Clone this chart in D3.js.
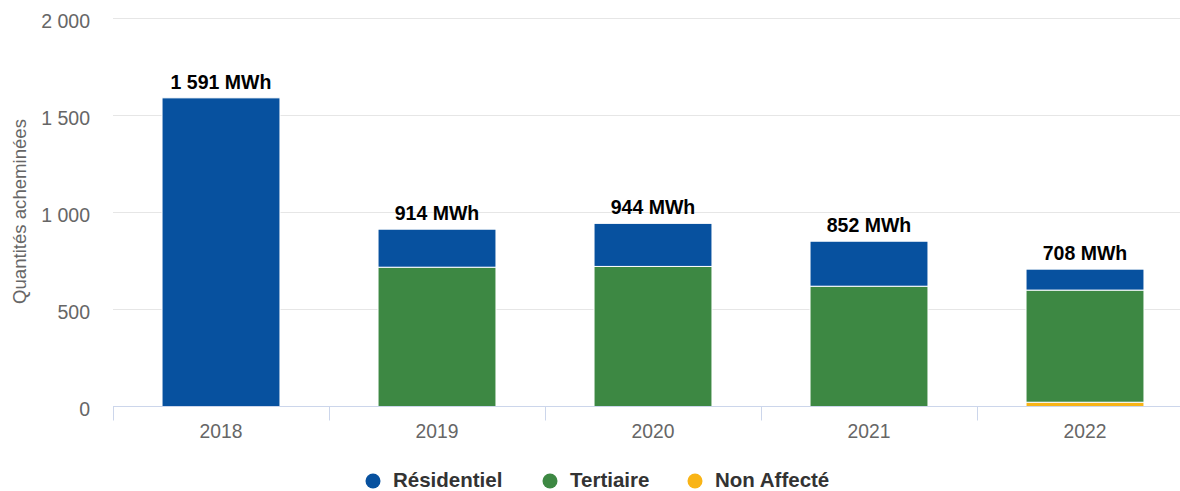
<!DOCTYPE html>
<html>
<head>
<meta charset="utf-8">
<script src="https://cdn.jsdelivr.net/npm/d3@7"></script>
<style>
  body { margin: 0; background: #fff; }
  text { font-family: "Liberation Sans", Arial, sans-serif; }
</style>
</head>
<body>
<script>
const years = ['2018', '2019', '2020', '2021', '2022'];
const residentiel = [1591, 196, 222, 232, 108];
const tertiaire = [0, 718, 722, 620, 578];
const nonAffecte = [0, 0, 0, 0, 22];
const totals = [1591, 914, 944, 852, 708];
const yTicks = [0, 500, 1000, 1500, 2000];

const seriesNames = ['Résidentiel', 'Tertiaire', 'Non Affecté'];
const colors = ['#07519f', '#3d8843', '#f9b416'];

const width = 1180;
const height = 491;
const plotLeft = 113;
const plotRight = 1193;
const plotTop = 18.5;
const plotBottom = 406.5;

const fr = d3.formatLocale({ decimal: ',', thousands: '\u00a0', grouping: [3], currency: ['', ''] });
const fmt = fr.format(',d');

const rows = years.map((y, i) => ({
  year: y,
  'Non Affecté': nonAffecte[i],
  'Tertiaire': tertiaire[i],
  'Résidentiel': residentiel[i]
}));

// stack from bottom: non affecté, tertiaire, résidentiel
const stack = d3.stack().keys(['Non Affecté', 'Tertiaire', 'Résidentiel'])(rows);

const x = d3.scaleBand().domain(years).range([plotLeft, plotRight]).paddingInner(0.454).paddingOuter(0.227);
const y = d3.scaleLinear().domain([0, 2000]).range([plotBottom, plotTop]);

const svg = d3.select('body').append('svg')
  .attr('width', width)
  .attr('height', height);

// grid
svg.append('g')
  .selectAll('line')
  .data(yTicks.filter(d => d > 0))
  .join('line')
  .attr('x1', plotLeft)
  .attr('x2', width)
  .attr('y1', d => y(d))
  .attr('y2', d => y(d))
  .attr('stroke', '#e6e6e6')
  .attr('stroke-width', 1);

// y labels
svg.append('g')
  .selectAll('text')
  .data(yTicks)
  .join('text')
  .attr('x', 90)
  .attr('y', d => y(d) + 9)
  .attr('text-anchor', 'end')
  .attr('font-size', 19.5)
  .attr('fill', '#666')
  .text(d => fmt(d));

svg.append('text')
  .attr('transform', `translate(26,211.5) rotate(-90)`)
  .attr('text-anchor', 'middle')
  .attr('font-size', 18.6)
  .attr('fill', '#666')
  .text('Quantités acheminées');

// bars
const groups = svg.append('g')
  .selectAll('g')
  .data(stack)
  .join('g')
  .attr('fill', d => colors[seriesNames.indexOf(d.key)]);

groups.selectAll('rect')
  .data(d => d.filter(p => p[1] - p[0] > 0))
  .join('rect')
  .attr('x', d => x(d.data.year))
  .attr('width', x.bandwidth())
  .attr('y', d => y(d[1]))
  .attr('height', d => y(d[0]) - y(d[1]))
  .attr('stroke', '#fff')
  .attr('stroke-width', 1);

// x axis
const axis = svg.append('g');
axis.append('line')
  .attr('x1', plotLeft)
  .attr('x2', width)
  .attr('y1', plotBottom)
  .attr('y2', plotBottom)
  .attr('stroke', '#ccd6eb');

axis.selectAll('line.tick')
  .data(years)
  .join('line')
  .attr('class', 'tick')
  .attr('x1', d => Math.round(x(d) - x.step() * x.paddingInner() / 2) + 0.5)
  .attr('x2', d => Math.round(x(d) - x.step() * x.paddingInner() / 2) + 0.5)
  .attr('y1', plotBottom)
  .attr('y2', plotBottom + 14)
  .attr('stroke', '#ccd6eb');

axis.selectAll('text')
  .data(years)
  .join('text')
  .attr('x', d => x(d) + x.bandwidth() / 2)
  .attr('y', 438)
  .attr('text-anchor', 'middle')
  .attr('font-size', 19.3)
  .attr('fill', '#666')
  .text(d => d);

// totals
svg.append('g')
  .selectAll('text')
  .data(years)
  .join('text')
  .attr('x', d => x(d) + x.bandwidth() / 2)
  .attr('y', (d, i) => y(totals[i]) - 9)
  .attr('text-anchor', 'middle')
  .attr('font-size', 19.5)
  .attr('font-weight', 'bold')
  .attr('fill', '#000')
  .text((d, i) => fmt(totals[i]) + ' MWh');

// legend
const legendX = [373, 550, 695];
const legend = svg.append('g')
  .selectAll('g')
  .data(seriesNames)
  .join('g')
  .attr('transform', (d, i) => `translate(${legendX[i]},481)`);

legend.append('circle')
  .attr('r', 7.5)
  .attr('fill', (d, i) => colors[i]);

legend.append('text')
  .attr('x', 20)
  .attr('y', 6)
  .attr('font-size', 20.5)
  .attr('font-weight', 'bold')
  .attr('fill', '#333')
  .text(d => d);
</script>
</body>
</html>
